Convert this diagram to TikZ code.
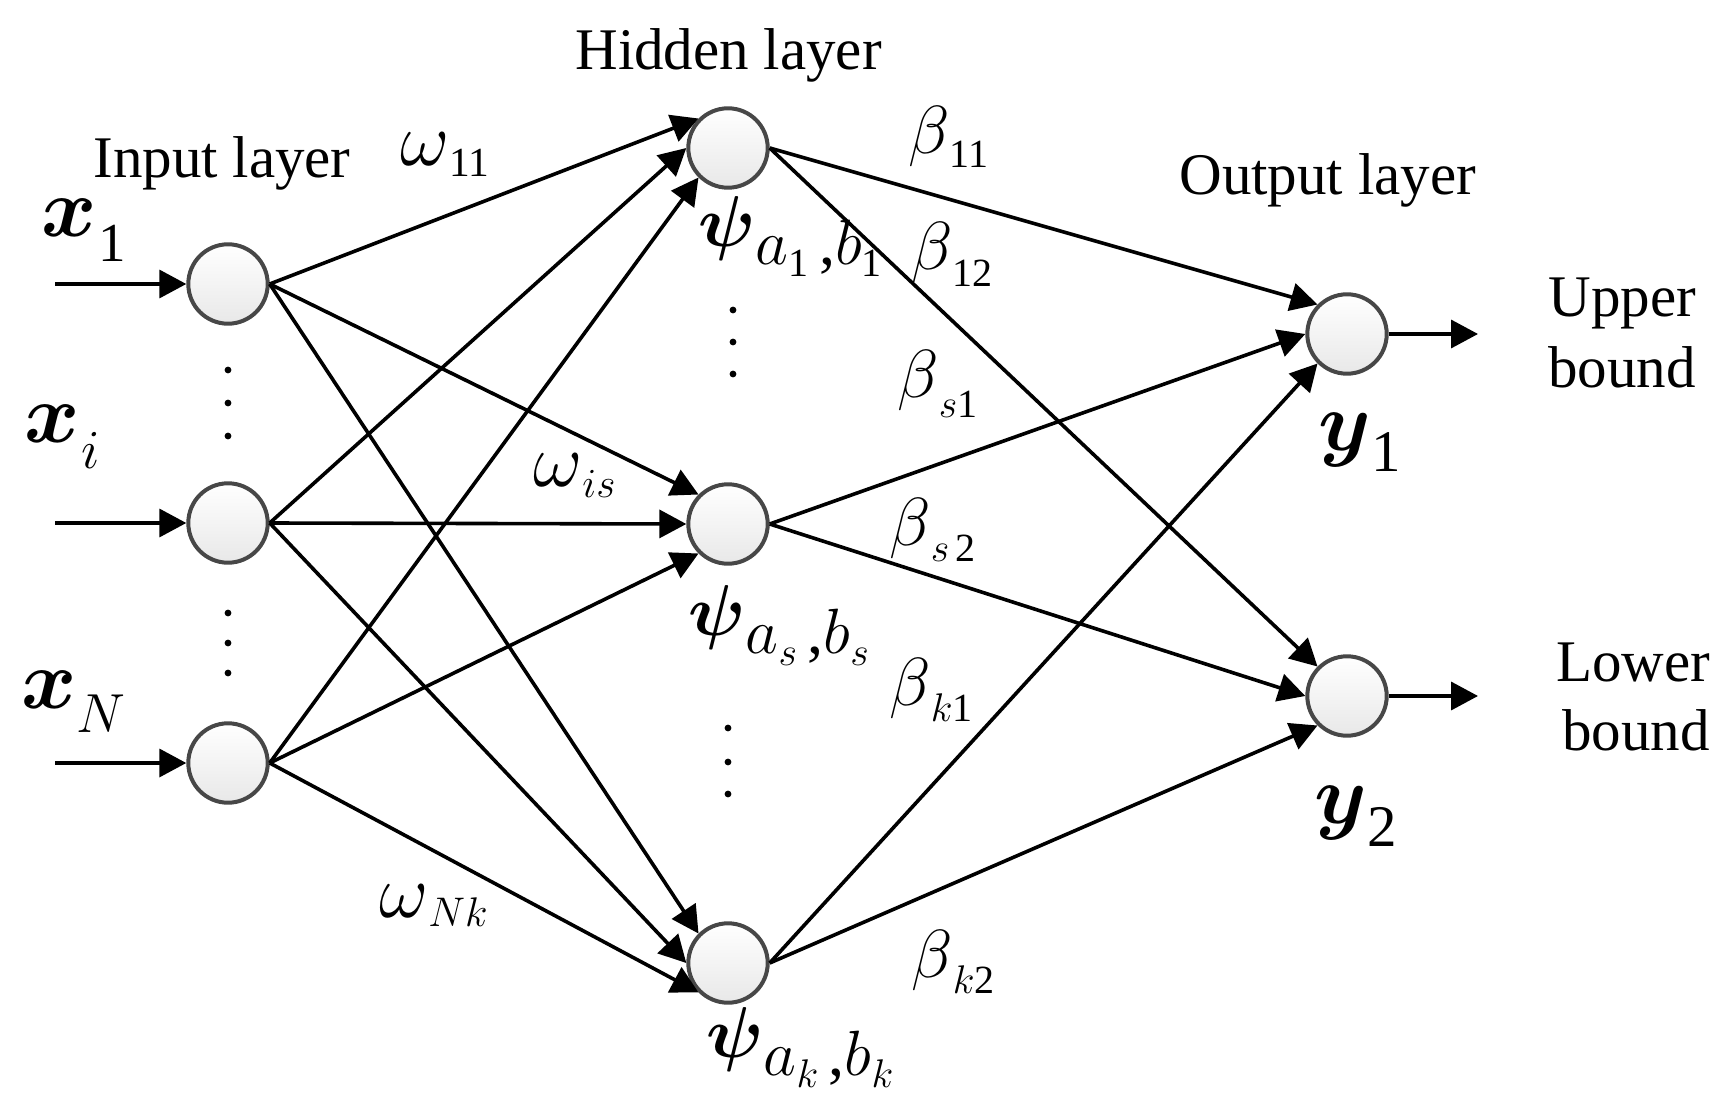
\RequirePackage{fix-cm}
\documentclass[tikz,border=0pt]{standalone}
\usepackage{fontspec}
\setmainfont{Liberation Serif}
\usetikzlibrary{arrows.meta}
\newcommand\fsz[1]{\fontsize{#1}{#1}\selectfont}
\newcommand\lowr[3]{\raisebox{-#1pt}{\fsz{#2}#3}}
\newcommand\mb[2]{{\fsz{#1}\boldmath$#2$}}
\newcommand\mv[2]{{\fsz{#1}$#2$}}
\begin{document}
\begin{tikzpicture}[x=0.5pt,y=-0.5pt,
  neuron/.style={circle, draw=black!72, line width=2pt, minimum size=39.7pt, inner sep=0pt, top color=white, bottom color=black!9},
  conn/.style={line width=1.8pt, -{Triangle[length=13.5pt,width=14pt]}},
  title/.style={font=\fsz{29.5}, inner sep=0pt, anchor=base west},
  lbl/.style={inner sep=0pt, anchor=base west}]
\useasboundingbox (0,0) rectangle (1727,1112);
% nodes
\node[neuron] (i1) at (228,284) {};
\node[neuron] (ii) at (228,523) {};
\node[neuron] (iN) at (228,763) {};
\node[neuron] (h1) at (728,148) {};
\node[neuron] (hs) at (728,524) {};
\node[neuron] (hk) at (728,963) {};
\node[neuron] (o1) at (1347,334) {};
\node[neuron] (o2) at (1347,696) {};
\coordinate (s1) at (55,284);
\coordinate (si) at (55,523);
\coordinate (sN) at (55,763);
\coordinate (e1) at (1478,334);
\coordinate (e2) at (1478,696);
% inputs / outputs
\draw[conn] (s1) -- (i1.west);
\draw[conn] (si) -- (ii.west);
\draw[conn] (sN) -- (iN.west);
\draw[conn] (o1.east) -- (e1);
\draw[conn] (o2.east) -- (e2);
% input -> hidden
\foreach \h in {h1,hs,hk}{
  \draw[conn] (i1.east) -- (\h.north west);
  \draw[conn] (ii.east) -- (\h.west);
  \draw[conn] (iN.east) -- (\h.south west);
}
% hidden -> output
\foreach \o in {o1,o2}{
  \draw[conn] (h1.east) -- (\o.north west);
  \draw[conn] (hs.east) -- (\o.west);
  \draw[conn] (hk.east) -- (\o.south west);
}
% dots
\foreach \y in {370,403,436,613,643,673}{\fill (228,\y) circle (1.7pt);}
\foreach \y in {310,342,374}{\fill (733,\y) circle (1.7pt);}
\foreach \y in {728,762,794}{\fill (728,\y) circle (1.7pt);}
% titles
\node[title] (tin) at (93,178) {Input layer};
\node[title] (thid) at (575,70) {Hidden layer};
\node[title] (tout) at (1179,195) {Output layer};
\node[title] (tup1) at (1548,317) {Upper};
\node[title] (tup2) at (1548,387) {bound};
\node[title] (tlo1) at (1556,681) {Lower};
\node[title] (tlo2) at (1562,750) {bound};
% input labels
\node[lbl] (lx1) at (41,237) {\mb{42}{x}\hspace{1pt}\lowr{12.5}{27.5}{1}};
\node[lbl] (lxi) at (24,442) {\mb{42}{x}\hspace{1pt}\lowr{13}{27.5}{$i$}};
\node[lbl] (lxN) at (21,708) {\mb{42}{x}\lowr{12}{27.5}{$N$}};
% omega labels
\node[lbl] (lw11) at (400,166) {\mv{38}{\omega}\lowr{5.5}{20.7}{11}};
\node[lbl] (lwis) at (533,486) {\mv{38}{\omega}\lowr{5.5}{20.7}{$is$}};
\node[lbl] (lwNk) at (379,917) {\mv{38}{\omega}\lowr{4.5}{20.7}{$Nk$}};
% beta labels
\node[lbl] (lb11) at (908,154) {\mv{34}{\beta}\lowr{7}{20}{11}};
\node[lbl] (lb12) at (911,270) {\mv{34}{\beta}\lowr{8.5}{20}{12}};
\node[lbl] (lbs1) at (897,397) {\mv{34}{\beta}\lowr{10}{20}{$s$1}};
\node[lbl] (lbs2) at (889,545) {\mv{34}{\beta}\lowr{8}{20}{$s$\,2}};
\node[lbl] (lbk1) at (889,705) {\mv{34}{\beta}\lowr{8}{20}{$k$1}};
\node[lbl] (lbk2) at (911,977) {\mv{34}{\beta}\lowr{8}{20}{$k$2}};
% psi labels
\node[lbl] (lp1) at (698,247) {\mb{36}{\psi}\lowr{9}{32}{$a$\lowr{6}{20}{1}\,,$b$\lowr{6}{20}{1}}};
\node[lbl] (lps) at (688,635) {\mb{36}{\psi}\lowr{9}{32}{$a$\lowr{6}{20}{$s$}\,,$b$\lowr{6}{20}{$s$}}};
\node[lbl] (lpk) at (706,1057) {\mb{36}{\psi}\lowr{9}{32}{$a$\lowr{6}{20}{$k$}\,,$b$\lowr{6}{20}{$k$}}};
% output labels
\node[lbl] (ly1) at (1318,450) {\mb{42}{y}\lowr{10.5}{29.5}{1}};
\node[lbl] (ly2) at (1314,823) {\mb{42}{y}\lowr{11.5}{29.5}{2}};
\end{tikzpicture}
\end{document}
